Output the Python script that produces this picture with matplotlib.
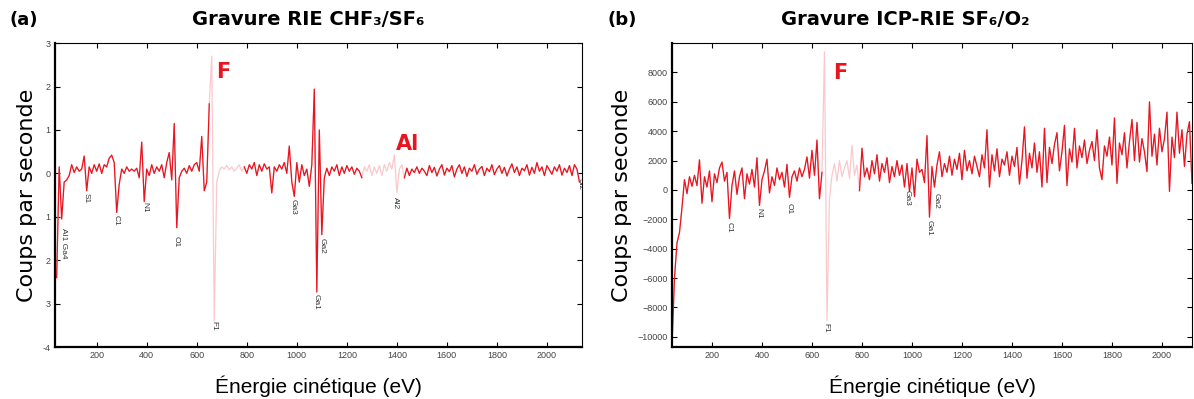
import numpy as np
import matplotlib
matplotlib.use("Agg")
import matplotlib.pyplot as plt

# ---------------------------------------------------------------
# spectre (a) : gravure RIE CHF3/SF6, pas de 10 eV, 40 -> 2130 eV
energy_a = np.arange(40, 2140, 10)
counts_a = [
    -2.4, 0.15, -1.05, -0.2, -0.15, -0.05, 0.2, 0.02, 0.15, 0.05,      # 40
    0.1, 0.4, -0.4, 0.15, 0.0, 0.2, 0.05, 0.22, 0.0, 0.2,              # 140
    0.15, 0.35, 0.42, 0.25, -0.9, -0.25, 0.1, 0.0, 0.15, 0.05,         # 240
    0.1, 0.05, 0.12, -0.1, 0.72, -0.65, 0.1, -0.05, 0.2, 0.0,          # 340
    0.15, 0.05, 0.2, -0.1, 0.25, 0.48, -0.15, 1.15, -1.25, -0.1,       # 440
    0.05, 0.12, 0.0, 0.18, 0.05, 0.2, 0.25, 0.05, 0.85, -0.4,          # 540
    -0.2, 1.6, 2.7, -3.4, -0.2, 0.05, 0.15, 0.1, 0.18, 0.08,           # 640
    0.15, 0.05, 0.12, 0.2, 0.05, 0.15, 0.0, 0.2, 0.1, 0.25,            # 740
    -0.05, 0.2, 0.05, 0.22, 0.1, 0.15, -0.45, 0.15, 0.05, 0.2,         # 840
    0.1, 0.25, 0.0, 0.63, -0.2, -0.53, 0.25, -0.2, 0.2, -0.05,         # 940
    0.1, -0.3, 0.2, 1.94, -2.73, 1.0, -1.41, -0.1, 0.12, -0.05,        # 1040
    0.15, 0.05, 0.2, -0.05, 0.15, 0.0, 0.18, 0.05, 0.15, -0.02,        # 1140
    0.12, 0.05, -0.1, 0.15, 0.05, 0.2, -0.05, 0.15, 0.0, 0.18,         # 1240
    -0.05, 0.2, 0.05, 0.25, 0.1, 0.43, -0.45, 0.1, 0.2, -0.1,          # 1340
    0.12, -0.05, 0.1, 0.02, 0.15, 0.0, 0.12, 0.05, -0.05, 0.18,        # 1440
    0.02, 0.14, -0.06, 0.1, 0.2, -0.04, 0.12, 0.04, 0.18, -0.08,       # 1540
    0.1, 0.2, 0.0, 0.15, -0.07, 0.12, 0.05, 0.2, -0.02, 0.1,           # 1640
    0.16, -0.05, 0.12, 0.04, 0.2, -0.03, 0.1, 0.18, 0.0, 0.14,         # 1740
    -0.06, 0.1, 0.22, 0.02, 0.15, -0.05, 0.12, 0.06, 0.2, -0.04,       # 1840
    0.14, 0.0, 0.25, 0.05, 0.15, -0.05, 0.18, 0.08, -0.02, 0.15,       # 1940
    0.05, 0.2, -0.04, 0.12, 0.02, 0.18, -0.05, 0.2, 0.1, -0.2,         # 2040
]
faded_a = [(655, 790), (1265, 1430)]

# spectre (b) : gravure ICP-RIE SF6/O2, pas de 10 eV, 40 -> 2120 eV
energy_b = np.arange(40, 2130, 10)
counts_b = [
    -10600, -6000, -3600, -2900, -1200, 700, -250, 900, 250, 1000,       # 40
    300, 2050, -900, 900, 200, 1300, -800, 1100, 500, 1500,              # 140
    1900, 600, 1200, -1950, 300, 1300, -300, 900, 1500, -600,            # 240
    1100, 400, 1400, 200, 2200, -1050, 700, 1300, 2100, -200,            # 340
    900, 300, 1500, 700, 1200, 200, 1750, -500, 900, 1300,               # 440
    600, 1500, 900, 1400, 2250, 800, 2700, 1000, 3400, -600,             # 540
    1200, 9400, -8900, -600, 1000, 1800, 600, 2000, 900, 1500,           # 640
    2000, 800, 3050, 1000, 1700, -50, 2850, 900, 1500, 700,              # 740
    2000, 1100, 2400, 600, 1800, 1200, 2200, 500, 1600, 900,             # 840
    2000, 1000, 1700, 200, 1800, -100, 1500, -450, 2100, 1200,           # 940
    1400, 500, 3700, -1850, 1600, 200, 1700, 2600, 900, 1800,            # 1040
    1200, 2300, 1000, 2100, 1400, 2500, 700, 2700, 1300, 2000,           # 1140
    1100, 2300, 1600, 900, 2400, 1500, 4100, 200, 2400, 1300,            # 1240
    2800, 900, 2100, 1700, 2600, 1000, 2300, 1600, 2900, 400,            # 1340
    2000, 4300, 800, 2500, 1500, 3200, 1200, 2600, 200, 4200,            # 1440
    500, 2900, 1800, 3100, 3900, 1300, 2600, 4400, 300, 2800,            # 1540
    1900, 4200, 1500, 3000, 2200, 3400, 1800, 2700, 3300, 2000,          # 1640
    4100, 1500, 700, 3000, 2300, 3600, 1700, 4900, 450, 3200,            # 1740
    2400, 3900, 1500, 3300, 4800, 2000, 4600, 1900, 3500, 2600,          # 1840
    1250, 6000, 2300, 3800, 1700, 4200, 2600, 3500, 5300, -100,          # 1940
    3600, 2200, 5300, 2500, 4100, 1600, 3800, 4650, 450,                 # 2040
]
faded_b = [(645, 790)]

# repères des pics : (nom, énergie, valeur du haut du texte)
peaks_a = [("Al1 Ga4", 67, -1.25), ("S1", 159, -0.44), ("C1", 279, -0.95),
           ("N1", 392, -0.67), ("O1", 519, -1.45), ("F1", 667, -3.4),
           ("Ga3", 987, -0.58), ("Ga1", 1078, -2.78), ("Ga2", 1103, -1.48),
           ("Al2", 1395, -0.55), ("Si2", 2132, -0.1)]
peaks_b = [("C1", 268, -2200), ("N1", 388, -1230), ("O1", 508, -900),
           ("F1", 656, -9070), ("Ga3", 980, 0), ("Ga1", 1068, -2040),
           ("Ga2", 1096, -200)]

yticks_a = [3, 2, 1, 0, -1, -2, -3, -4]
ytick_labels_a = ["3", "2", "1", "0", "1", "2", "3", "-4"]
yticks_b = [8000, 6000, 4000, 2000, 0, -2000, -4000, -6000, -8000, -10000]
xticks = [200, 400, 600, 800, 1000, 1200, 1400, 1600, 1800, 2000]

RED = "#e8141f"
PINK = "#f9c9cd"
narrow = ["Liberation Sans", "DejaVu Sans"]


def draw(ax, energy, counts, faded):
    counts = np.array(counts, dtype=float)
    dark = counts.copy()
    for lo, hi in faded:
        dark[(energy > lo) & (energy < hi)] = np.nan
    ax.plot(energy, counts, color=PINK, lw=0.9)
    ax.plot(energy, dark, color=RED, lw=0.9)


def style(ax):
    ax.tick_params(direction="in", length=3.5, width=0.8, top=True,
                   right=True, labelsize=6.5, labelcolor="#444444", pad=3)
    ax.set_xticks(xticks)
    for lab in ax.get_xticklabels() + ax.get_yticklabels():
        lab.set_family(narrow)
    ax.spines["left"].set_linewidth(1.6)
    ax.spines["bottom"].set_linewidth(1.6)
    ax.spines["top"].set_linewidth(0.8)
    ax.spines["right"].set_linewidth(0.8)
    ax.set_xlabel("Énergie cinétique (eV)", fontsize=15, family=narrow,
                  labelpad=11)
    ax.set_ylabel("Coups par seconde", fontsize=16, labelpad=4)


fig = plt.figure(figsize=(11.94, 3.99), dpi=100)

# ---------------- (a)
ax1 = fig.add_axes([0.046, 0.130, 0.4414, 0.762])
draw(ax1, energy_a, counts_a, faded_a)
ax1.set_xlim(33, 2140)
ax1.set_ylim(-4, 3)
ax1.set_yticks(yticks_a)
ax1.set_yticklabels(ytick_labels_a)
style(ax1)
ax1.yaxis.labelpad = 4
for name, x, y in peaks_a:
    ax1.text(x, y, name, rotation=-90, ha="center", va="top", fontsize=6,
             color="#333333", family=narrow, clip_on=True)
ax1.text(707, 2.33, "F", color=RED, fontsize=15, fontweight="bold",
         ha="center", va="center")
ax1.text(1443, 0.67, "Al", color=RED, fontsize=15, fontweight="bold",
         ha="center", va="center")

# ---------------- (b)
ax2 = fig.add_axes([0.5628, 0.130, 0.4355, 0.762])
draw(ax2, energy_b, counts_b, faded_b)
ax2.set_xlim(40, 2120)
ax2.set_ylim(-10700, 10000)
ax2.set_yticks(yticks_b)
style(ax2)
for name, x, y in peaks_b:
    ax2.text(x, y, name, rotation=-90, ha="center", va="top", fontsize=6,
             color="#333333", family=narrow, clip_on=True)
ax2.text(712, 7980, "F", color=RED, fontsize=15, fontweight="bold",
         ha="center", va="center")

# titres
fig.text(0.008, 0.95, "(a)", fontsize=13, fontweight="bold", va="center")
fig.text(0.258, 0.95, "Gravure RIE CHF₃/SF₆", fontsize=14, fontweight="bold",
         ha="center", va="center")
fig.text(0.509, 0.95, "(b)", fontsize=13, fontweight="bold", va="center")
fig.text(0.758, 0.95, "Gravure ICP-RIE SF₆/O₂", fontsize=14,
         fontweight="bold", ha="center", va="center")

fig.savefig("out.png", dpi=100)
